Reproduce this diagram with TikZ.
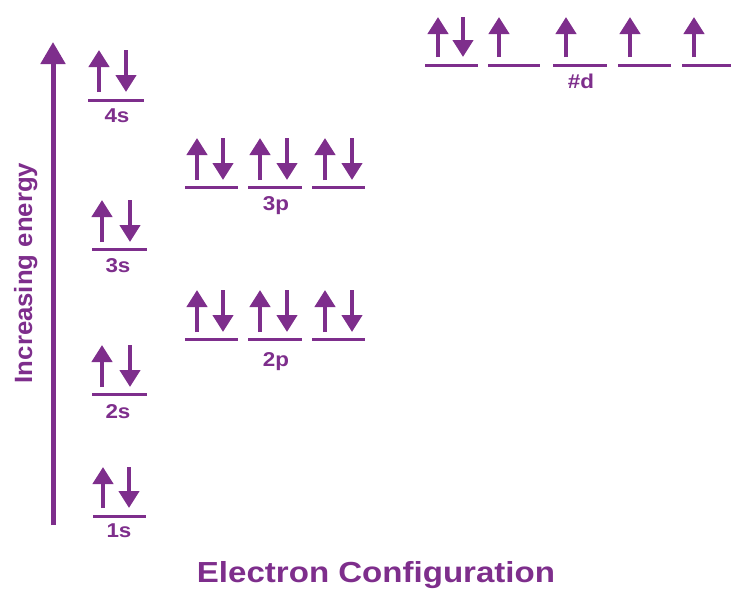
\documentclass[tikz,border=0pt]{standalone}
\usepackage{fontspec}
\usepackage{graphicx}
\setmainfont{Liberation Sans}
\usetikzlibrary{arrows.meta}
\definecolor{pur}{RGB}{126,46,140}
\tikzset{
  spin/.style={draw=pur, line width=4.3pt, -{Triangle[width=20pt,length=17pt]}},
  orb/.style={draw=pur, line width=3pt},
  lbl/.style={text=pur, anchor=base, inner sep=0pt, font=\bfseries\fontsize{20}{20}\selectfont},
  axisarrow/.style={draw=pur, line width=5pt, -{Triangle[width=24pt,length=22pt]}}
}
\newcommand\pairspin[4]{% xup, xdown, top, bottom
  \draw[spin] (#1,#4) -- (#1,#3);
  \draw[spin] (#2,#3) -- (#2,#4);}
\newcommand\onespin[3]{\draw[spin] (#1,#3) -- (#1,#2);}
\begin{document}
\begin{tikzpicture}[x=1pt,y=-1pt]
\useasboundingbox (0,0) rectangle (731,592);
\fill[white] (0,0) rectangle (731,592);

% energy axis
\coordinate (axb) at (53,525);
\coordinate (axt) at (53,42);
\draw[axisarrow] (axb) -- (axt);
\node[text=pur, rotate=90, anchor=base, inner sep=0pt,
      font=\bfseries\fontsize{25}{25}\selectfont] (energy) at (32,273)
      {\scalebox{1.03}[1]{Increasing energy}};

% 1s
\pairspin{103}{129}{467}{508}
\draw[orb] (93,516) -- (146,516);
\node[lbl] (l1s) at (119,537) {\scalebox{1.12}[1]{1s}};
% 2s
\pairspin{102}{130}{345}{387}
\draw[orb] (92,394) -- (147,394);
\node[lbl] (l2s) at (118,418) {\scalebox{1.12}[1]{2s}};
% 3s
\pairspin{102}{130}{200}{242}
\draw[orb] (92,249) -- (147,249);
\node[lbl] (l3s) at (118,272) {\scalebox{1.12}[1]{3s}};
% 4s
\pairspin{99}{126}{50}{92}
\draw[orb] (88,100) -- (144,100);
\node[lbl] (l4s) at (117,122) {\scalebox{1.12}[1]{4s}};

% 2p
\pairspin{197}{223}{290}{332}
\pairspin{260}{287}{290}{332}
\pairspin{325}{352}{290}{332}
\draw[orb] (185,339) -- (238,339);
\draw[orb] (248,339) -- (302,339);
\draw[orb] (312,339) -- (365,339);
\node[lbl] (l2p) at (276,366) {\scalebox{1.12}[1]{2p}};

% 3p
\pairspin{197}{223}{138}{180}
\pairspin{260}{287}{138}{180}
\pairspin{325}{352}{138}{180}
\draw[orb] (185,187) -- (238,187);
\draw[orb] (248,187) -- (302,187);
\draw[orb] (312,187) -- (365,187);
\node[lbl] (l3p) at (276,210) {\scalebox{1.12}[1]{3p}};

% d
\pairspin{438}{463}{17}{57}
\onespin{499}{17}{57}
\onespin{566}{17}{57}
\onespin{630}{17}{57}
\onespin{694}{17}{57}
\draw[orb] (425,65) -- (478,65);
\draw[orb] (488,65) -- (540,65);
\draw[orb] (553,65) -- (607,65);
\draw[orb] (618,65) -- (671,65);
\draw[orb] (682,65) -- (731,65);
\node[lbl] (ld) at (581,88) {\scalebox{1.12}[1]{\#d}};

% title
\node[text=pur, anchor=base, inner sep=0pt, font=\bfseries\fontsize{29}{29}\selectfont]
  (title) at (376,582) {\scalebox{1.14}[1]{Electron Configuration}};
\end{tikzpicture}
\end{document}
